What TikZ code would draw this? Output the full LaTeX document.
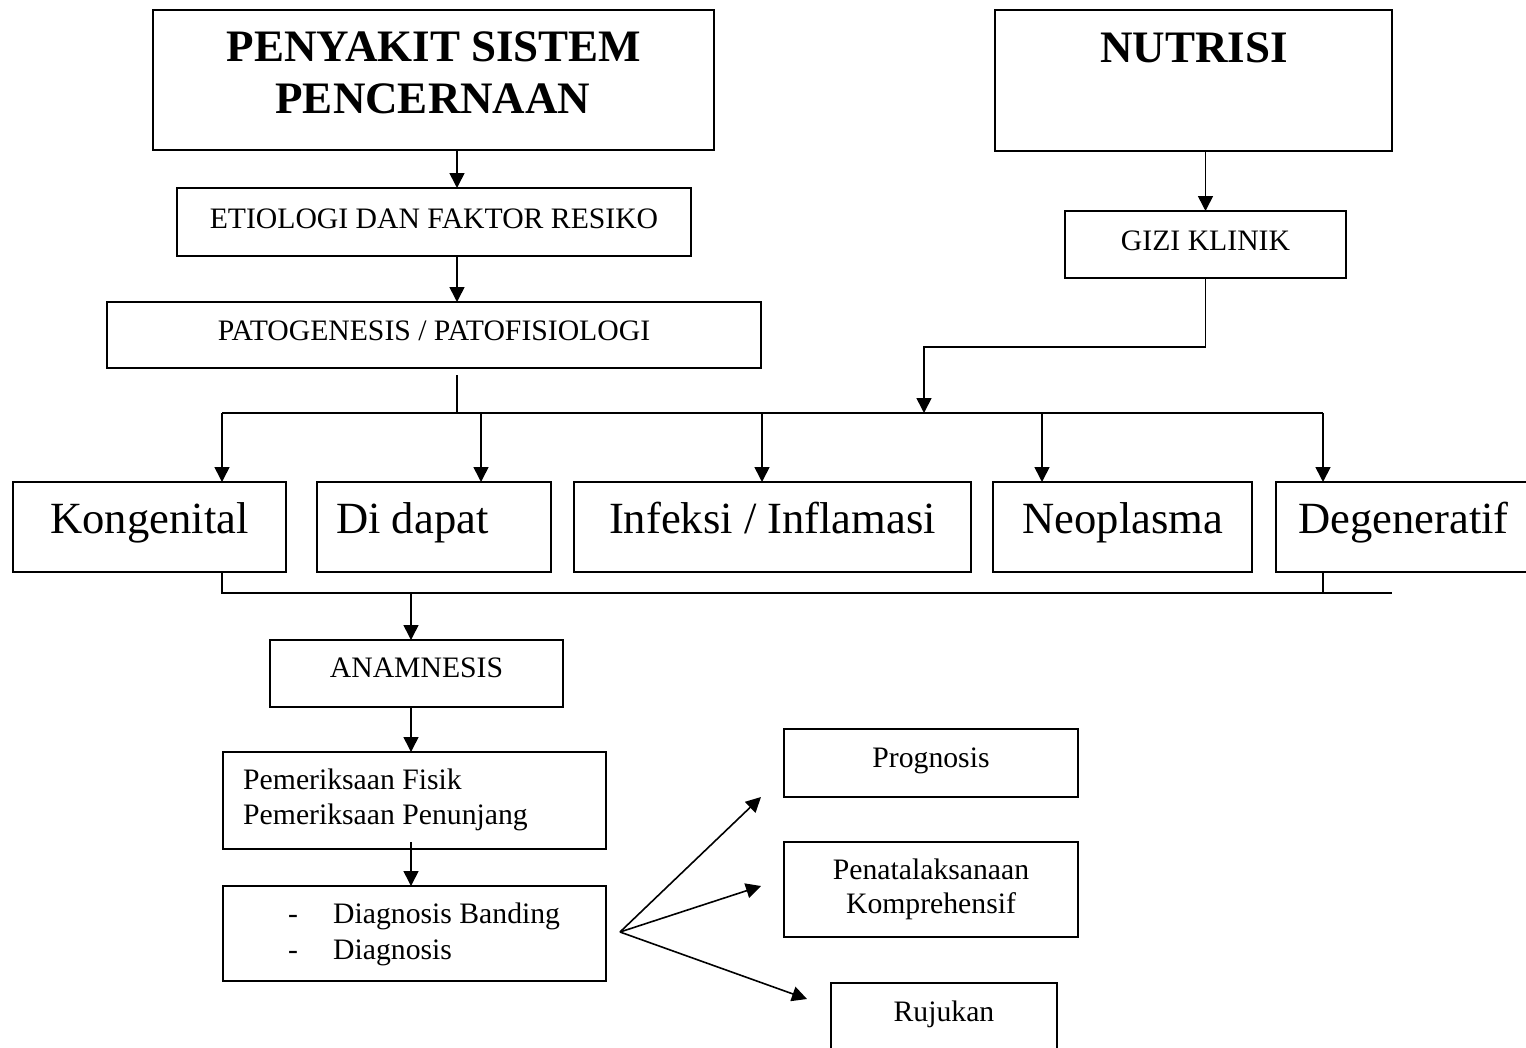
\documentclass[tikz,border=0pt]{standalone}
\usepackage{fontspec}
\setmainfont{Liberation Serif}
\usetikzlibrary{arrows.meta}
\begin{document}
\begin{tikzpicture}[x=1pt,y=-1pt,
  box/.style={draw,line width=2pt,inner sep=0pt,outer sep=0pt,rectangle},
  big/.style={font=\fontsize{44.6}{52}\selectfont,inner sep=0pt},
  title/.style={font=\fontsize{45}{52}\selectfont\bfseries,inner sep=0pt},
  small/.style={font=\fontsize{29.7}{35}\selectfont,inner sep=0pt},
  conn/.style={line width=1.6pt},
  arr/.style={conn,-{Triangle[length=15pt,width=15pt]}}]
\useasboundingbox (0,0) rectangle (1526,1047);
\newcommand{\bx}[5]{\node[box,minimum width={#4-#2},minimum height={#5-#3}] (#1) at ({(#2+#4)/2},{(#3+#5)/2}) {};}
% boxes
\bx{psp}{153}{10}{714}{150}
\bx{nut}{995}{10}{1392}{151}
\bx{etio}{177}{188}{691}{256}
\bx{pato}{107}{302}{761}{368}
\bx{gizi}{1065}{211}{1346}{278}
\bx{kong}{13}{482}{286}{572}
\bx{dida}{317}{482}{551}{572}
\bx{infe}{574}{482}{971}{572}
\bx{neop}{993}{482}{1252}{572}
\bx{dege}{1276}{482}{1580}{572}
\bx{anam}{270}{640}{563}{707}
\bx{peme}{223}{752}{606}{849}
\bx{diag}{223}{886}{606}{981}
\bx{prog}{784}{729}{1078}{797}
\bx{pena}{784}{842}{1078}{937}
\bx{ruju}{831}{983}{1057}{1080}
% texts
\node[title,anchor=base] (t1) at (434,61) {PENYAKIT SISTEM};
\node[title,anchor=base] (t2) at (433,113) {PENCERNAAN};
\node[title,anchor=base] (t3) at (1194,62) {NUTRISI};
\node[small,anchor=base] (t4) at (434,228) {ETIOLOGI DAN FAKTOR RESIKO};
\node[small,anchor=base] (t5) at (434,340) {PATOGENESIS / PATOFISIOLOGI};
\node[small,anchor=base] (t6) at (1205.5,250) {GIZI KLINIK};
\node[big,anchor=base] (t7) at (149.5,533) {Kongenital};
\node[big,anchor=base west] (t8) at (336,533) {Di dapat};
\node[big,anchor=base] (t9) at (772.5,533) {Infeksi / Inflamasi};
\node[big,anchor=base] (t10) at (1123,533) {Neoplasma};
\node[big,anchor=base west] (t11) at (1298,533) {Degeneratif};
\node[small,anchor=base] (t12) at (416.5,677) {ANAMNESIS};
\node[small,anchor=base west] (t13) at (243,789) {Pemeriksaan Fisik};
\node[small,anchor=base west] (t14) at (243,824) {Pemeriksaan Penunjang};
\node[small,anchor=base west] (t15) at (288,923) {-};
\node[small,anchor=base west] (t16) at (333,923) {Diagnosis Banding};
\node[small,anchor=base west] (t17) at (288,959) {-};
\node[small,anchor=base west] (t18) at (333,959) {Diagnosis};
\node[small,anchor=base] (t19) at (931,767) {Prognosis};
\node[small,anchor=base] (t20) at (931,879) {Penatalaksanaan};
\node[small,anchor=base] (t21) at (931,913) {Komprehensif};
\node[small,anchor=base] (t22) at (944,1021) {Rujukan};
% coordinates
\coordinate (a1) at (457,0);
\coordinate (pst) at (457,375);
\coordinate (k1) at (222,413);
\coordinate (k2) at (481,413);
\coordinate (k3) at (762,413);
\coordinate (k4) at (1042,413);
\coordinate (k5) at (1323,413);
\coordinate (g1) at (924,347);
\coordinate (b1) at (222,593);
\coordinate (b2) at (1392,593);
\coordinate (b3) at (1323,593);
\coordinate (c1) at (411,593);
\coordinate (c2) at (411,842);
\coordinate (fan) at (620,932);
\coordinate (f1) at (761,797);
\coordinate (f2) at (761,886);
\coordinate (f3) at (807,999);
% connectors
\draw[arr] (a1 |- psp.south) -- (a1 |- etio.north);
\draw[arr] (a1 |- etio.south) -- (a1 |- pato.north);
\draw[conn] (pst) -- (a1 |- k1);
\draw[conn] (k1) -- (k5);
\draw[arr] (k1) -- (k1 |- kong.north);
\draw[arr] (k2) -- (k2 |- dida.north);
\draw[arr] (k3) -- (k3 |- infe.north);
\draw[arr] (k4) -- (k4 |- neop.north);
\draw[arr] (k5) -- (k5 |- dege.north);
\draw[arr] (nut.south -| gizi.south) -- (gizi.north);
\draw[arr] (gizi.south) |- (g1) -- (g1 |- k1);
\draw[conn] (k1 |- kong.south) -- (b1) -- (b2);
\draw[conn] (k5 |- dege.south) -- (b3);
\draw[arr] (c1) -- (c1 |- anam.north);
\draw[arr] (c1 |- anam.south) -- (c1 |- peme.north);
\draw[arr] (c2) -- (c2 |- diag.north);
\draw[arr] (fan) -- (f1);
\draw[arr] (fan) -- (f2);
\draw[arr] (fan) -- (f3);
\end{tikzpicture}
\end{document}
